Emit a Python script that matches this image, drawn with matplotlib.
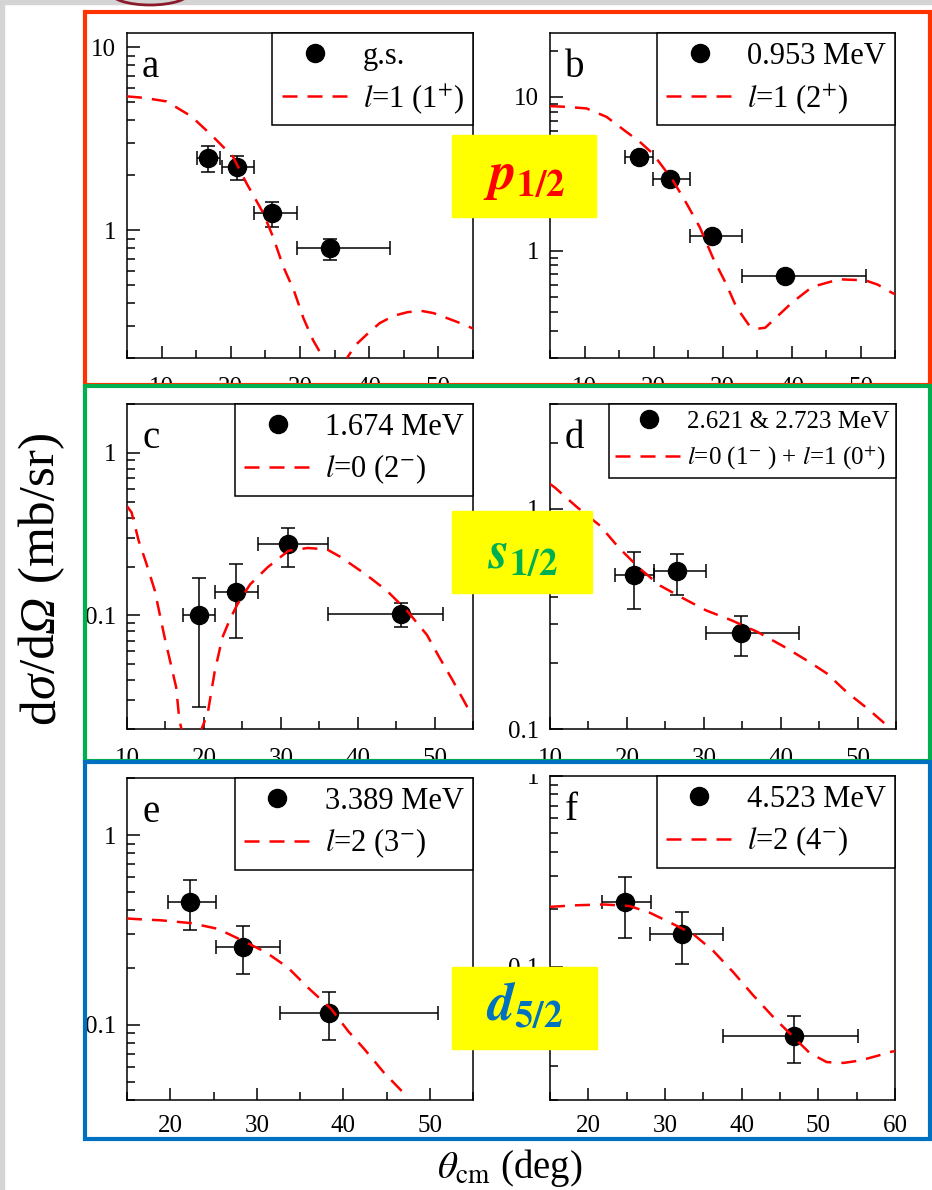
import matplotlib
matplotlib.use('Agg')
import matplotlib.pyplot as plt
from matplotlib import ticker
from matplotlib.patches import Rectangle, Ellipse
from matplotlib.transforms import Affine2D
from matplotlib.lines import Line2D

plt.rcParams['font.family'] = ['Liberation Serif', 'DejaVu Serif']
plt.rcParams['mathtext.fontset'] = 'stix'

W, H = 932, 1190

# ---- panel a : g.s. ----
a_x = [16.7, 20.9, 26.0, 34.3]
a_y = [2.5, 2.23, 1.25, 0.80]
a_ylo = [2.07, 1.88, 1.04, 0.69]
a_yhi = [2.9, 2.56, 1.42, 0.90]
a_xlo = [15.1, 18.8, 23.3, 29.5]
a_xhi = [18.5, 23.3, 29.6, 43.0]
a_cx = [5, 7.5, 10.7, 14.3, 17.4, 20.3, 22.3, 24.7, 26.1, 27.6, 29.1, 30.5, 31.9, 33.2,
        34.3, 35.3, 36.2, 36.8, 38.0, 39.7, 41.5, 43.5, 45.5, 47.4, 49.3, 51.3, 53.2, 55]
a_cy = [5.4, 5.3, 5.07, 4.2, 3.26, 2.53, 1.8, 1.24, 0.92, 0.63, 0.47, 0.33, 0.25, 0.205,
        0.15, 0.12, 0.15, 0.2, 0.235, 0.27, 0.31, 0.34, 0.356, 0.363, 0.352, 0.33, 0.31, 0.29]

# ---- panel b : 0.953 MeV ----
b_x = [17.9, 22.4, 28.5, 39.1]
b_y = [4.06, 2.9, 1.24, 0.687]
b_ylo = [3.85, 2.75, 1.17, 0.65]
b_yhi = [4.3, 3.05, 1.31, 0.72]
b_xlo = [15.9, 19.9, 25.3, 32.8]
b_xhi = [19.9, 25.3, 32.8, 50.8]
b_cx = [5, 7.5, 10.3, 13.2, 16.1, 18.0, 19.9, 22.8, 24.8, 26.7, 28.6, 30.5, 32.0, 33.9,
        35.1, 36.2, 37.3, 40.1, 43.0, 46.9, 50.7, 52.5, 54.6, 55]
b_cy = [8.7, 8.6, 8.4, 7.4, 5.9, 5.1, 4.27, 2.86, 2.02, 1.42, 0.9, 0.61, 0.43, 0.324,
        0.31, 0.315, 0.35, 0.46, 0.58, 0.65, 0.64, 0.6, 0.53, 0.52]

# ---- panel c : 1.674 MeV ----
c_x = [19.3, 24.2, 31.0, 45.7]
c_y = [0.1, 0.14, 0.276, 0.102]
c_ylo = [0.0272, 0.073, 0.2, 0.085]
c_yhi = [0.171, 0.207, 0.346, 0.119]
c_xlo = [17.3, 21.5, 27.1, 36.1]
c_xhi = [21.5, 27.1, 36.1, 51.1]
c_cx = [10, 10.6, 11.5, 12.5, 13.6, 14.9, 16.4, 16.8, 17.3, 18.0, 18.6, 19.2, 19.7, 20.5,
        21.4, 22.4, 23.4, 24.4, 26.0, 28.3, 31.0, 33.5, 36.0, 37.7, 40.9, 43.8, 46.4, 49.0,
        50.5, 52.4, 54.2, 55]
c_cy = [0.47, 0.43, 0.29, 0.21, 0.143, 0.073, 0.036, 0.0229, 0.018, 0.012, 0.01, 0.013,
        0.02, 0.025, 0.045, 0.073, 0.095, 0.118, 0.155, 0.198, 0.25, 0.26, 0.255, 0.23,
        0.181, 0.142, 0.107, 0.076, 0.0565, 0.0395, 0.0276, 0.024]

# ---- panel d : 2.621 & 2.723 MeV ----
d_x = [20.95, 26.5, 34.9]
d_y = [0.499, 0.52, 0.274]
d_ylo = [0.352, 0.408, 0.214]
d_yhi = [0.635, 0.625, 0.326]
d_xlo = [18.5, 23.5, 30.3]
d_xhi = [23.5, 30.3, 42.4]
d_cx = [10, 10.65, 13.5, 16.5, 18.9, 21.7, 24.3, 27.0, 30.3, 33.6, 37.0, 40.5, 43.4, 46.0,
        48.6, 51.4, 53.8, 55]
d_cy = [1.3, 1.25, 1.02, 0.84, 0.67, 0.535, 0.449, 0.398, 0.346, 0.312, 0.276, 0.236,
        0.205, 0.179, 0.147, 0.123, 0.104, 0.094]

# ---- panel e : 3.389 MeV ----
e_x = [22.3, 28.4, 38.4]
e_y = [0.444, 0.256, 0.115]
e_ylo = [0.316, 0.184, 0.083]
e_yhi = [0.58, 0.33, 0.149]
e_xlo = [19.7, 25.3, 32.7]
e_xhi = [25.3, 32.7, 51.0]
e_cx = [15, 16.2, 18.9, 22.4, 25.5, 28.6, 31.1, 33.6, 35.9, 38.6, 40.6, 42.4, 44.7, 46.7, 47.3]
e_cy = [0.363, 0.36, 0.355, 0.343, 0.32, 0.274, 0.24, 0.2, 0.157, 0.121, 0.092, 0.0746,
        0.0558, 0.0449, 0.0425]

# ---- panel f : 4.523 MeV ----
f_x = [24.8, 32.2, 46.8]
f_y = [0.218, 0.149, 0.0433]
f_ylo = [0.141, 0.1035, 0.0313]
f_yhi = [0.295, 0.194, 0.0553]
f_xlo = [21.8, 28.1, 37.6]
f_xhi = [28.2, 37.6, 55.2]
f_cx = [15, 18.5, 22, 25.4, 28, 30.6, 33.7, 36.3, 38.9, 41.5, 44.1, 46.7, 48.9, 51.1, 53.3,
        55.4, 57.6, 59.6, 60]
f_cy = [0.206, 0.21, 0.212, 0.208, 0.192, 0.171, 0.148, 0.121, 0.0936, 0.0708, 0.0546,
        0.043, 0.0352, 0.0316, 0.0313, 0.0322, 0.034, 0.0359, 0.036]

letters = ['a', 'b', 'c', 'd', 'e', 'f']
states = ['g.s.', '0.953 MeV', '1.674 MeV', '2.621 & 2.723 MeV', '3.389 MeV', '4.523 MeV']
fits = [r'$l$=1 (1$^{+}$)', r'$l$=1 (2$^{+}$)', r'$l$=0 (2$^{-}$)',
        r'$l$=0 (1$^{-}$ ) + $l$=1 (0$^{+}$)', r'$l$=2 (3$^{-}$)', r'$l$=2 (4$^{-}$)']

# axes boxes in pixels: left, top, right, bottom
boxes = [(127, 33, 473, 358), (550, 33, 895, 358),
         (127, 404, 473, 729), (550, 404, 896, 729),
         (127, 778, 473, 1100), (550, 776, 895, 1100)]
xlims = [(5, 55), (5, 55), (10, 55), (10, 55), (15, 55), (15, 60)]
ylims = [(0.2, 12), (0.2, 26), (0.02, 2), (0.1, 3), (0.04, 2), (0.02, 1)]
xpads = [14, 14, 14, 14, 11, 11]

panels = [
    (a_x, a_y, a_xlo, a_xhi, a_ylo, a_yhi, a_cx, a_cy),
    (b_x, b_y, b_xlo, b_xhi, b_ylo, b_yhi, b_cx, b_cy),
    (c_x, c_y, c_xlo, c_xhi, c_ylo, c_yhi, c_cx, c_cy),
    (d_x, d_y, d_xlo, d_xhi, d_ylo, d_yhi, d_cx, d_cy),
    (e_x, e_y, e_xlo, e_xhi, e_ylo, e_yhi, e_cx, e_cy),
    (f_x, f_y, f_xlo, f_xhi, f_ylo, f_yhi, f_cx, f_cy),
]

fig = plt.figure(figsize=(W / 100, H / 100), dpi=100)
fig.patch.set_facecolor('white')
# pixel coordinates measured from the top-left corner
px = Affine2D().scale(1 / W, -1 / H).translate(0, 1) + fig.transFigure

for i, (x, y, xlo, xhi, ylo, yhi, cx, cy) in enumerate(panels):
    l, t, r, b = boxes[i]
    ax = fig.add_axes([l / W, 1 - b / H, (r - l) / W, (b - t) / H])
    ax.set_yscale('log')

    xe = [[xi - lo for xi, lo in zip(x, xlo)], [hi - xi for xi, hi in zip(x, xhi)]]
    ye = [[yi - lo for yi, lo in zip(y, ylo)], [hi - yi for yi, hi in zip(y, yhi)]]
    ax.errorbar(x, y, xerr=xe, yerr=ye, fmt='o', color='k', ms=13,
                elinewidth=1.1, capsize=5, capthick=1.1, zorder=2)
    ax.plot(cx, cy, color='red', lw=1.8, dashes=(6, 4), zorder=3)

    ax.set_xlim(*xlims[i])
    ax.set_ylim(*ylims[i])
    ax.xaxis.set_major_locator(ticker.MultipleLocator(10))
    ax.xaxis.set_minor_locator(ticker.MultipleLocator(5))
    ax.yaxis.set_major_locator(ticker.LogLocator(base=10))
    ax.yaxis.set_minor_locator(ticker.LogLocator(base=10, subs=range(2, 10)))
    ax.yaxis.set_major_formatter(ticker.FuncFormatter(lambda v, p: f'{v:g}'))
    ax.yaxis.set_minor_formatter(ticker.NullFormatter())
    ax.tick_params(which='both', direction='in', top=False, right=False,
                   width=1.1, labelsize=18)
    ax.tick_params(which='major', length=9)
    ax.tick_params(which='minor', length=6)
    ax.tick_params(axis='x', pad=xpads[i])
    ax.tick_params(axis='y', pad=8)
    for s in ax.spines.values():
        s.set_linewidth(1.1)

    ax.annotate(letters[i], xy=(0, 1), xycoords='axes fraction', xytext=(10.8, -31.5),
                textcoords='offset points', ha='left', va='baseline', fontsize=28)

    h1 = Line2D([], [], marker='o', ls='none', color='k', ms=13)
    h2 = Line2D([], [], color='red', lw=1.8, dashes=(6, 4))
    if i == 3:
        leg = ax.legend([h1, h2], [states[i], fits[i]], loc='upper right',
                        bbox_to_anchor=(1, 1), borderaxespad=0, fontsize=18,
                        handlelength=2.7, handletextpad=0.2, borderpad=0.25,
                        labelspacing=0.45)
    else:
        leg = ax.legend([h1, h2], [states[i], fits[i]], loc='upper right',
                        bbox_to_anchor=(1, 1), borderaxespad=0, fontsize=22,
                        handlelength=2.2, handletextpad=0.45, borderpad=0.3,
                        labelspacing=0.35)
    leg.get_frame().set_edgecolor('k')
    leg.get_frame().set_linewidth(1.1)
    leg.get_frame().set_boxstyle('square', pad=0)
    leg.get_frame().set_alpha(1)

# y title built from pieces so that sigma and Omega are italic
renderer = fig.canvas.get_renderer()
ypos = 724
for piece, style in [('d', 'normal'), ('σ', 'italic'), ('/d', 'normal'),
                     ('Ω', 'italic'), (' (mb/sr)', 'normal')]:
    t = fig.text(42, ypos, piece, transform=px, rotation=90, ha='center',
                 va='bottom', fontsize=37, style=style)
    ypos -= t.get_window_extent(renderer).height

fig.text(510, 1168, r'$\theta_{\rm cm}$ (deg)', transform=px, ha='center',
         va='center', fontsize=28)

# slide decoration: grey edges and cut-off header
fig.add_artist(Rectangle((0, 0), 4, H, transform=px, color='#d4d4d4', zorder=1))
fig.add_artist(Rectangle((0, 0), W, 4, transform=px, color='#d4d4d4', zorder=1))
fig.add_artist(Ellipse((150, -8), 80, 26, transform=px, fill=False,
                       edgecolor='#8b1a2a', lw=2, zorder=1))
fig.text(263, 5, 'PEKING UNIVERSITY', transform=px, ha='left', va='bottom',
         fontsize=30, color='#222222', zorder=1)

# white bands hiding the lower halves of cut tick labels
fig.add_artist(Rectangle((87, 387), 841, 12, transform=px, color='white', zorder=4))
fig.add_artist(Rectangle((87, 764), 841, 9, transform=px, color='white', zorder=4))

# coloured frames around each row
frames = [((85, 12), 845, 373, '#ff3300'),
          ((85, 386), 845, 375, '#00b050'),
          ((85, 762), 845, 377, '#0070c0')]
for (x0, y0), w, h, col in frames:
    fig.add_artist(Rectangle((x0, y0), w, h, transform=px, fill=False,
                             edgecolor=col, lw=3, zorder=5))

# orbital tags
tags = [((452, 135), 144, 82, r'$\mathbfit{p}_{\mathbf{1/2}}$', '#ff0000', (524, 178)),
        ((452, 511), 140, 82, r'$\mathbfit{s}_{\mathbf{1/2}}$', '#00b050', (522, 556)),
        ((452, 967), 145, 82, r'$\mathbfit{d}_{\mathbf{5/2}}$', '#0070c0', (524, 1006))]
for (x0, y0), w, h, txt, col, (tx, ty) in tags:
    fig.add_artist(Rectangle((x0, y0), w, h, transform=px, color='#ffff00', zorder=6))
    fig.text(tx, ty, txt, transform=px, ha='center', va='center', fontsize=38,
             color=col, zorder=7)

fig.savefig('out.png', dpi=100)
